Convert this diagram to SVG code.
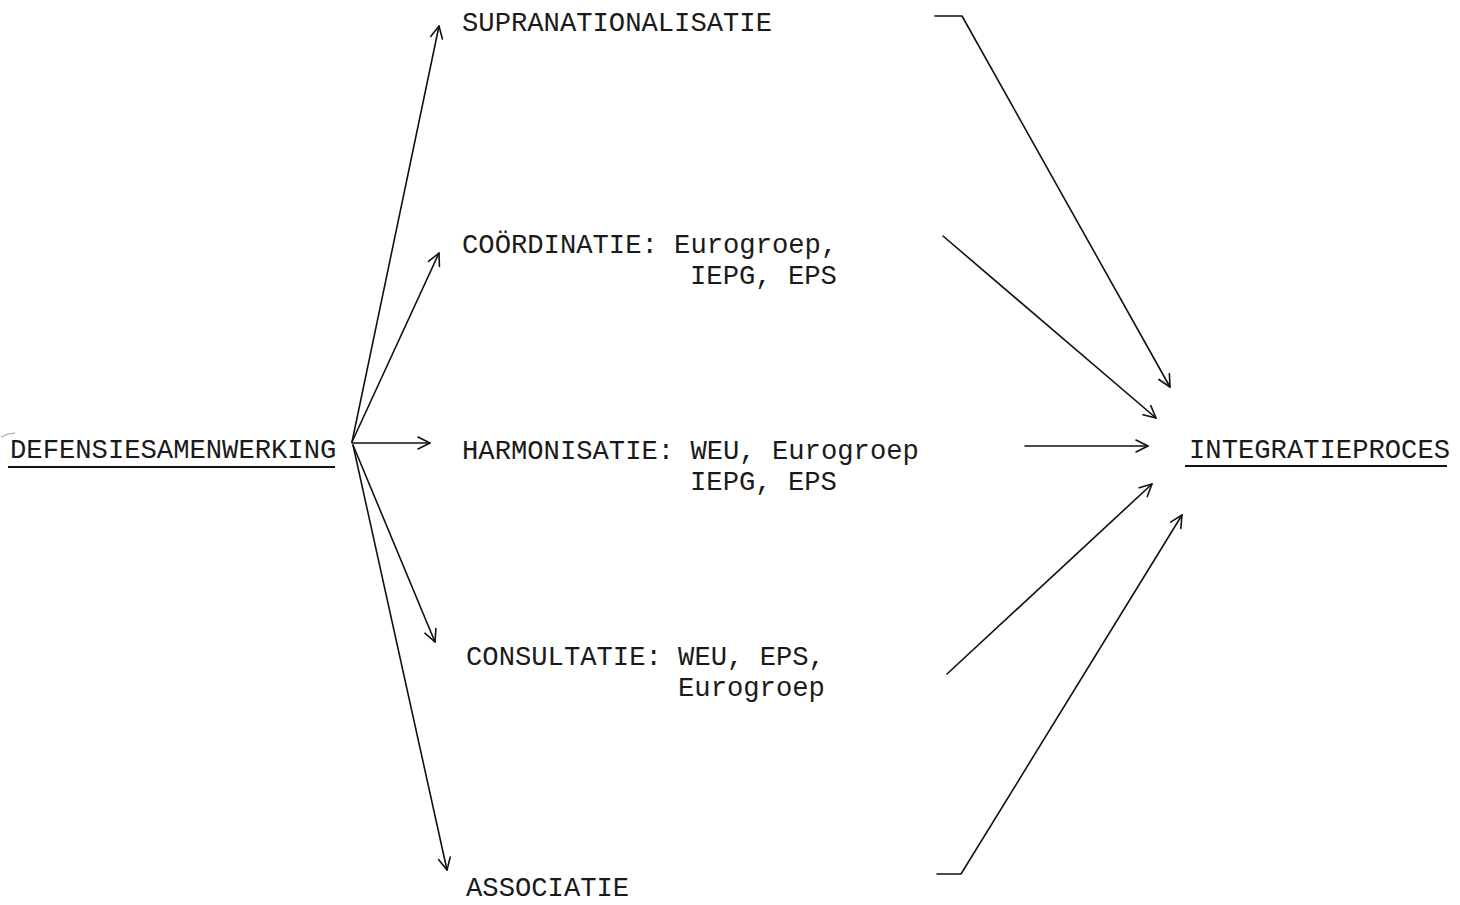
<svg xmlns="http://www.w3.org/2000/svg" width="1460" height="905" viewBox="0 0 1460 905">
<style>
.t{font-family:"Liberation Mono","Courier New",monospace;font-size:27.2px;fill:#1a1a1a}
.c{fill:none;stroke:#111;stroke-width:1.6;stroke-linecap:round;stroke-linejoin:round}
.u{stroke:#111;stroke-width:2.2}
</style>
<defs>
<marker id="ah" markerUnits="userSpaceOnUse" markerWidth="20" markerHeight="20" refX="14" refY="8" orient="auto" viewBox="0 0 20 16">
<path d="M2,2 L14,8 L2,14" fill="none" stroke="#111" stroke-width="1.6" stroke-linecap="round" stroke-linejoin="round"/>
</marker>
</defs>
<rect width="1460" height="905" fill="#fff"/>
<path d="M1,437 Q8,433 15,433" fill="none" stroke="#999" stroke-width="1"/>
<g id="defensiesamenwerking">
<text class="t" x="10" y="458">DEFENSIESAMENWERKING</text>
<line class="u" x1="8" y1="467" x2="335" y2="467"/>
</g>
<g id="supranationalisatie">
<text class="t" x="462" y="31">SUPRANATIONALISATIE</text>
</g>
<g id="coordinatie">
<text class="t" x="462" y="253">COÖRDINATIE: Eurogroep,</text>
<text class="t" x="690" y="284">IEPG, EPS</text>
</g>
<g id="harmonisatie">
<text class="t" x="462" y="459">HARMONISATIE: WEU, Eurogroep</text>
<text class="t" x="690" y="490">IEPG, EPS</text>
</g>
<g id="consultatie">
<text class="t" x="466" y="665">CONSULTATIE: WEU, EPS,</text>
<text class="t" x="678" y="696">Eurogroep</text>
</g>
<g id="associatie">
<text class="t" x="466" y="896">ASSOCIATIE</text>
</g>
<g id="integratieproces">
<text class="t" x="1189" y="458">INTEGRATIEPROCES</text>
<line class="u" x1="1185" y1="466" x2="1447" y2="466"/>
</g>
<g id="connectors">
<path class="c" d="M352,442 L439,26" marker-end="url(#ah)"/>
<path class="c" d="M352,442 L439,253" marker-end="url(#ah)"/>
<path class="c" d="M352,443 L430,443" marker-end="url(#ah)"/>
<path class="c" d="M353,445 L435,642" marker-end="url(#ah)"/>
<path class="c" d="M353,445 L447,870" marker-end="url(#ah)"/>
<path class="c" d="M935,16 L962,16 L1170,387" marker-end="url(#ah)"/>
<path class="c" d="M943,236 L1156,418" marker-end="url(#ah)"/>
<path class="c" d="M1025,446 L1148,446" marker-end="url(#ah)"/>
<path class="c" d="M947,674 L1152,484" marker-end="url(#ah)"/>
<path class="c" d="M937,874 L961,874 L1182,515" marker-end="url(#ah)"/>
</g>
</svg>
